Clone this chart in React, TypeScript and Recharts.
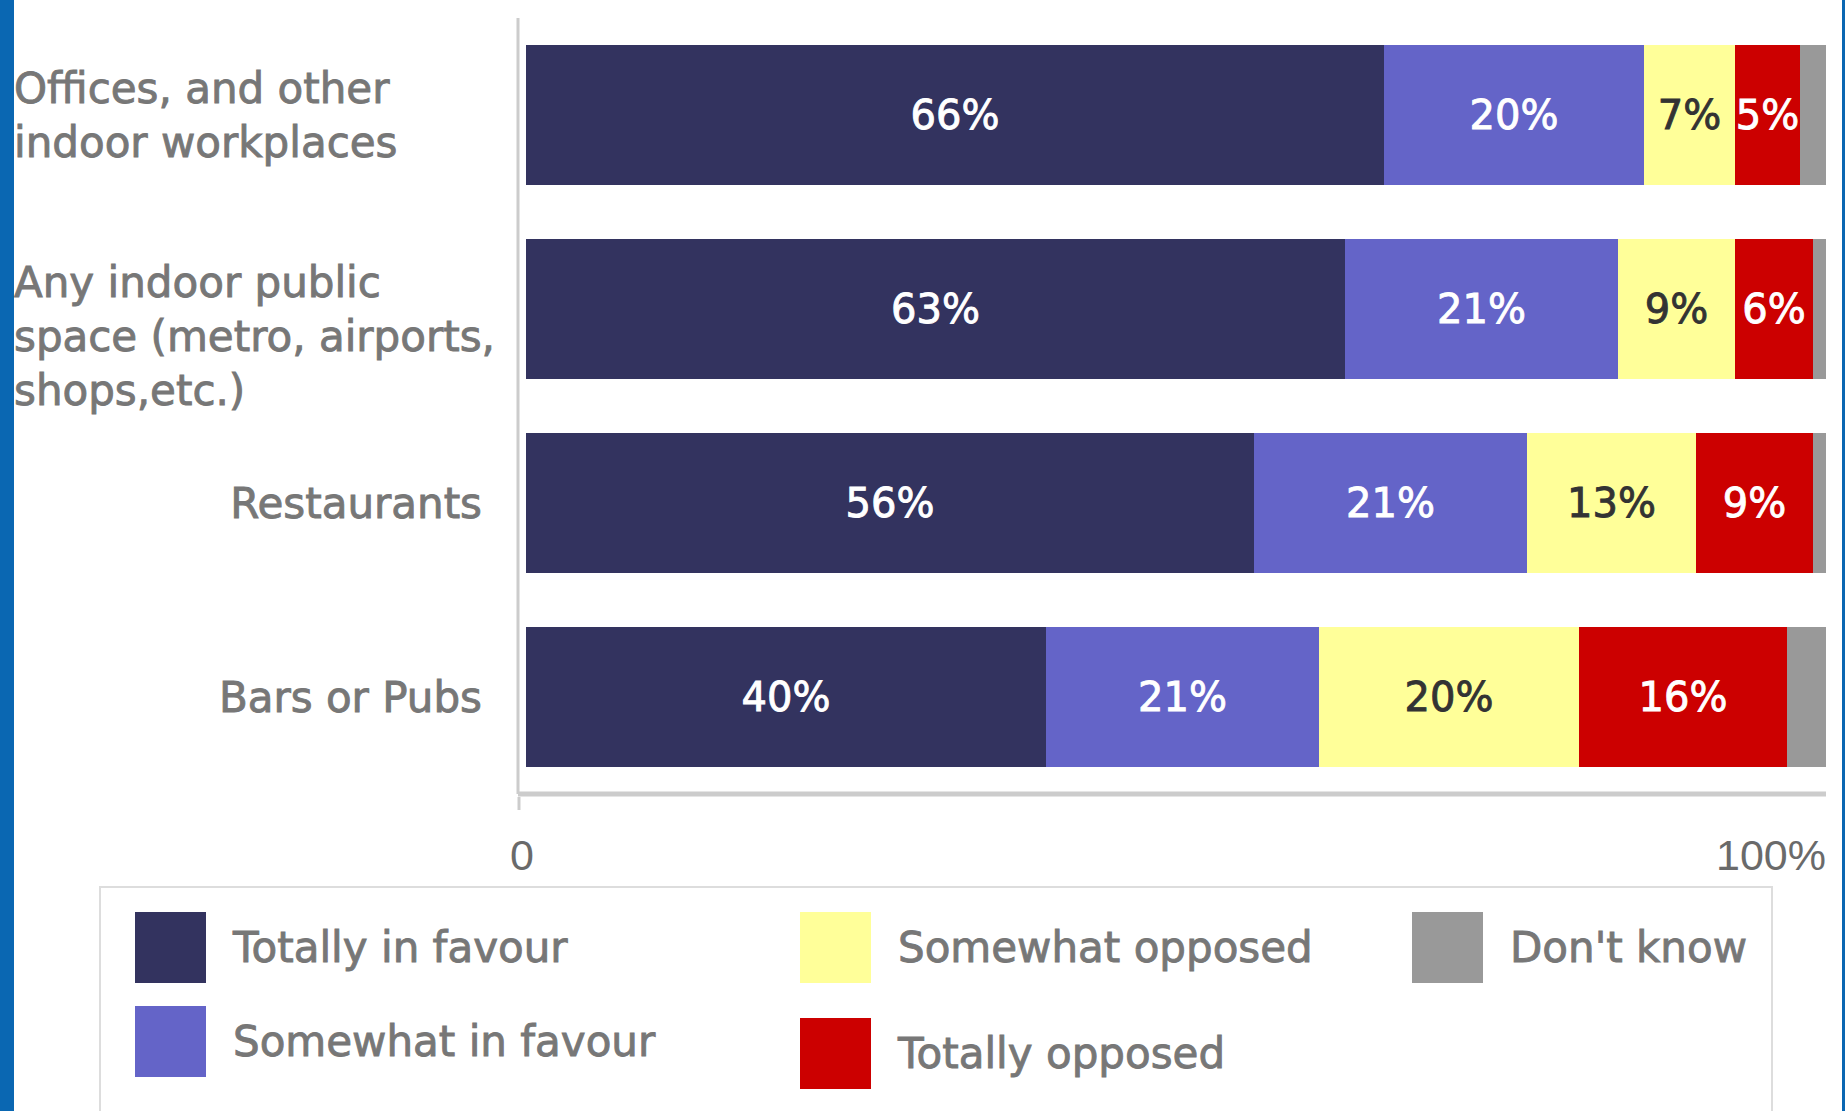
import { BarChart, Bar, XAxis, YAxis, LabelList } from "recharts";

const categories = [
  "Offices, and other\nindoor workplaces",
  "Any indoor public\nspace (metro, airports,\nshops,etc.)",
  "Restaurants",
  "Bars or Pubs",
];

const totallyInFavour = [66, 63, 56, 40];
const somewhatInFavour = [20, 21, 21, 21];
const somewhatOpposed = [7, 9, 13, 20];
const totallyOpposed = [5, 6, 9, 16];
const dontKnow = [2, 1, 1, 3];

const xTicks = [0, 100];

const SERIES = [
  { key: "totallyInFavour", name: "Totally in favour", color: "#33335f", text: "#ffffff", values: totallyInFavour },
  { key: "somewhatInFavour", name: "Somewhat in favour", color: "#6464c8", text: "#ffffff", values: somewhatInFavour },
  { key: "somewhatOpposed", name: "Somewhat opposed", color: "#ffff99", text: "#333333", values: somewhatOpposed },
  { key: "totallyOpposed", name: "Totally opposed", color: "#cc0000", text: "#ffffff", values: totallyOpposed },
  { key: "dontKnow", name: "Don't know", color: "#999999", text: "", values: dontKnow },
];

// legend goes column by column, two rows
const LEGEND_COLUMNS = [
  ["totallyInFavour", "somewhatInFavour"],
  ["somewhatOpposed", "totallyOpposed"],
  ["dontKnow"],
];

const chartData = categories.map((name, i) => {
  const row: Record<string, string | number> = { name };
  SERIES.forEach((s) => {
    row[s.key] = s.values[i];
  });
  return row;
});

const FONT = "'DejaVu Sans', Verdana, sans-serif";
const LABEL_GRAY = "#777777";

function CategoryTick({ x, y, payload }: any) {
  const lines = String(payload.value).split("\n");
  const common = {
    fill: LABEL_GRAY,
    stroke: LABEL_GRAY,
    strokeWidth: 0.9,
    fontSize: 42,
    fontFamily: FONT,
  };
  if (lines.length === 1) {
    return (
      <text x={x - 36} y={y} dy="0.35em" textAnchor="end" {...common}>
        {lines[0]}
      </text>
    );
  }
  return (
    <text x={14} y={y - 27} textAnchor="start" {...common}>
      {lines.map((line, i) => (
        <tspan key={i} x={14} dy={i === 0 ? "0.35em" : 54}>
          {line}
        </tspan>
      ))}
    </text>
  );
}

function PercentTick({ x, y, payload, index }: any) {
  const first = index === 0;
  return (
    <g>
      {first && <line x1={x - 7} x2={x - 7} y1={y + 3} y2={y + 16} stroke="#cccccc" strokeWidth={3} />}
      <text
        x={first ? x - 4 : x}
        y={y + 76}
        textAnchor={first ? "middle" : "end"}
        fill="#6a6a6a"
        fontSize={43}
        fontFamily="'Liberation Sans', Arial, sans-serif"
      >
        {first ? "0" : `${payload.value}%`}
      </text>
    </g>
  );
}

function Legend() {
  const byKey = Object.fromEntries(SERIES.map((s) => [s.key, s]));
  const colLeft = [135, 800, 1412];
  return (
    <div
      style={{
        position: "absolute",
        left: 99,
        top: 886,
        width: 1674,
        height: 260,
        border: "2px solid #dddddd",
        boxSizing: "border-box",
        background: "#ffffff",
      }}
    >
      {LEGEND_COLUMNS.map((col, c) => (
        <div key={c} style={{ position: "absolute", left: colLeft[c] - 101, top: 24 }}>
          {col.map((k, r) => (
            <div
              key={k}
              style={{
                display: "flex",
                alignItems: "center",
                height: 71,
                marginBottom: r === 0 ? (c === 1 ? 35 : 23) : 0,
              }}
            >
              <div style={{ width: 71, height: 71, background: byKey[k].color }} />
              <span
                style={{
                  marginLeft: 27,
                  fontFamily: FONT,
                  fontSize: 42,
                  color: LABEL_GRAY,
                  WebkitTextStroke: `0.9px ${LABEL_GRAY}`,
                  whiteSpace: "nowrap",
                }}
              >
                {byKey[k].name}
              </span>
            </div>
          ))}
        </div>
      ))}
    </div>
  );
}

export default function App() {
  return (
    <div
      style={{
        position: "absolute",
        left: 0,
        top: 0,
        width: 1845,
        height: 1111,
        overflow: "hidden",
        background: "#ffffff",
      }}
    >
      <div style={{ position: "absolute", left: 0, top: 0, width: 14, height: 1111, background: "#0a67b2" }} />
      <div style={{ position: "absolute", right: 0, top: 0, width: 3, height: 1111, background: "#0a67b2" }} />
      <div style={{ position: "absolute", left: 0, top: 0 }}>
        <BarChart
          width={1845}
          height={880}
          data={chartData}
          layout="vertical"
          margin={{ top: 18, right: 19, left: 0, bottom: 0 }}
          barCategoryGap={27}
        >
          <XAxis
            type="number"
            domain={[0, 100]}
            ticks={xTicks}
            height={86}
            padding={{ left: 8, right: 0 }}
            axisLine={{ stroke: "#cccccc", strokeWidth: 5 }}
            tickLine={false}
            tickSize={0}
            tickMargin={0}
            tick={<PercentTick />}
            interval={0}
          />
          <YAxis
            type="category"
            dataKey="name"
            width={518}
            axisLine={{ stroke: "#cccccc", strokeWidth: 3 }}
            tickLine={false}
            tickSize={0}
            tickMargin={0}
            tick={<CategoryTick />}
            interval={0}
          />
          {SERIES.map((s) => (
            <Bar key={s.key} dataKey={s.key} name={s.name} stackId="a" fill={s.color} isAnimationActive={false}>
              {s.text && (
                <LabelList
                  dataKey={s.key}
                  position="center"
                  fill={s.text}
                  stroke={s.text}
                  strokeWidth={0.9}
                  fontSize={40}
                  fontFamily={FONT}
                  formatter={(v: any) => `${v}%`}
                />
              )}
            </Bar>
          ))}
        </BarChart>
      </div>
      <Legend />
    </div>
  );
}
